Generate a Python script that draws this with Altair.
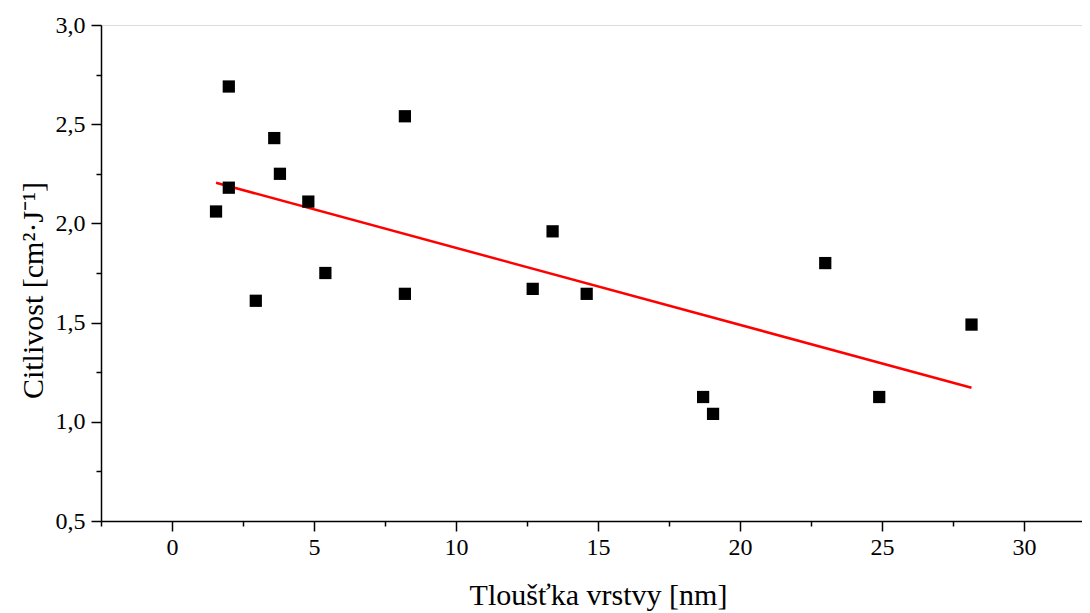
import altair as alt
import pandas as pd

thickness = [1.55, 2.0, 2.0, 2.95, 3.6, 3.8, 4.8, 5.4, 8.2, 8.2, 12.7, 13.4, 14.6, 18.7, 19.05, 23.0, 24.9, 28.15]
sensitivity = [2.06, 2.69, 2.18, 1.61, 2.43, 2.25, 2.11, 1.75, 2.54, 1.645, 1.67, 1.96, 1.645, 1.125, 1.04, 1.80, 1.125, 1.49]

x_ticks = [-2.5 + 2.5 * i for i in range(14)]
y_ticks = [0.5 + 0.25 * i for i in range(11)]

df = pd.DataFrame({"x": thickness, "y": sensitivity})

FONT = "Liberation Serif"

xscale = alt.Scale(domain=[-2.5, 32.04], nice=False, zero=False)
yscale = alt.Scale(domain=[0.5, 3.0], nice=False, zero=False)

xaxis = alt.Axis(
    title="Tloušťka vrstvy [nm]",
    values=x_ticks,
    labelExpr="datum.value % 5 === 0 ? datum.label : ''",
    format="d",
    tickSize={"condition": {"test": "datum.value % 5 === 0", "value": 10}, "value": 5},
    tickColor="black", tickWidth=1.5,
    domainColor="black", domainWidth=1.5,
    labelFont=FONT, labelFontSize=24, labelColor="black", labelPadding=4,
    titleFont=FONT, titleFontSize=30, titleFontWeight="normal", titleColor="black",
    titleX=497, titleY=83, titleBaseline="alphabetic", titleAnchor="middle",
    grid=False,
)
yaxis = alt.Axis(
    title="Citlivost [cm²·J⁻¹]",
    values=y_ticks,
    labelExpr="(datum.value * 100) % 50 === 0 ? replace(format(datum.value, '.1f'), '.', ',') : ''",
    tickSize={"condition": {"test": "(datum.value * 100) % 50 === 0", "value": 10}, "value": 5},
    tickColor="black", tickWidth=1.5,
    domainColor="black", domainWidth=1.5,
    labelFont=FONT, labelFontSize=24, labelColor="black", labelPadding=6,
    titleFont=FONT, titleFontSize=30, titleFontWeight="normal", titleColor="black",
    titleX=-59, titleY=265, titleBaseline="alphabetic", titleAnchor="middle",
    grid=False,
)

points = alt.Chart(df).mark_point(shape="square", filled=True, color="black", size=150, opacity=1).encode(
    x=alt.X("x:Q", scale=xscale, axis=xaxis),
    y=alt.Y("y:Q", scale=yscale, axis=yaxis),
)

fit = alt.Chart(df).transform_regression("x", "y").mark_line(color="#ff0000", strokeWidth=2.5).encode(
    x=alt.X("x:Q", scale=xscale, axis=xaxis),
    y=alt.Y("y:Q", scale=yscale, axis=yaxis),
)

chart = alt.layer(fit, points).properties(
    width=981, height=496,
    autosize=alt.AutoSizeParams(type="none"),
    padding={"left": 93, "top": 17, "right": 0, "bottom": 95},
).configure_view(
    stroke="transparent", strokeWidth=0, strokeOpacity=0
).configure_axis(grid=False).configure(background="white")

chart.save("out.html", embed_options={"renderer": "svg", "actions": False})
